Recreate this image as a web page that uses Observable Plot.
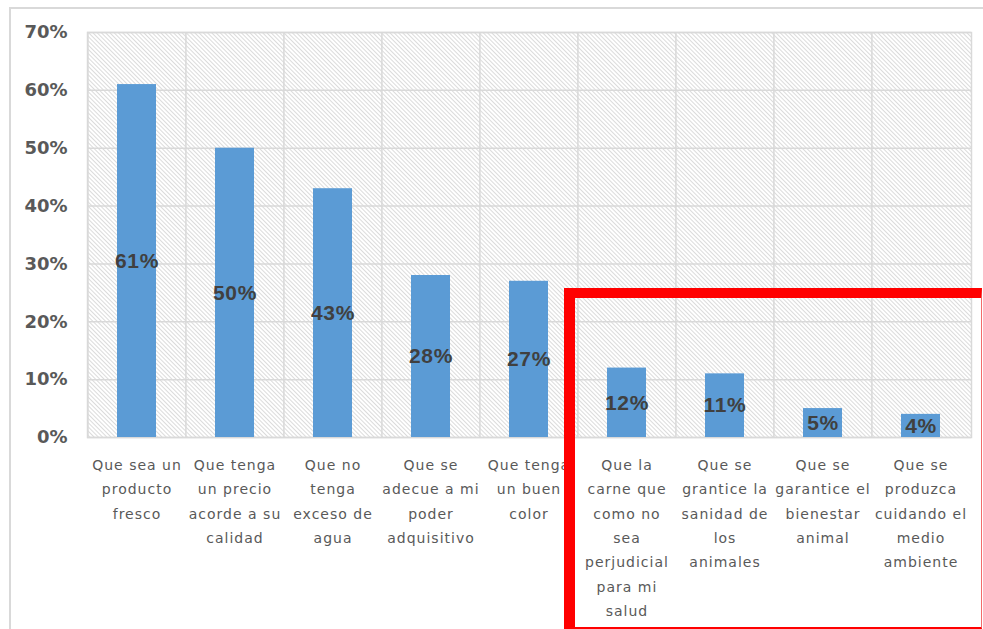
<!DOCTYPE html>
<html>
<head>
<meta charset="utf-8">
<script src="https://cdn.jsdelivr.net/npm/d3@7"></script>
<script src="https://cdn.jsdelivr.net/npm/@observablehq/plot@0.6"></script>
<style>
  html, body { margin: 0; padding: 0; background: #fff; }
  #wrap { position: relative; width: 983px; height: 629px; overflow: hidden; background: #fff; }
  #chart { position: absolute; left: 0; top: 0; }
  .outer-top { position: absolute; left: 10px; top: 7px; width: 973px; height: 0; border-top: 2px solid #d9d9d9; }
  .outer-left { position: absolute; left: 9px; top: 7px; width: 0; height: 622px; border-left: 2px solid #d9d9d9; }
  .redbox { position: absolute; left: 564px; top: 288px; width: 406px; height: 329px;
            border-left: 11px solid #ff0000; border-top: 10px solid #ff0000;
            border-right: 1px solid #f26b6b; border-bottom: 2px solid #ff0000; }
  g[font-size="14"] text { letter-spacing: 1px; }
  g[font-size="21"] text { letter-spacing: 0.7px; }
</style>
</head>
<body>
<div id="wrap">
  <div class="outer-top"></div>
  <div class="outer-left"></div>
  <div id="chart"></div>
  <div class="redbox"></div>
</div>
<svg width="0" height="0" style="position:absolute">
  <defs>
    <pattern id="hatch" patternUnits="userSpaceOnUse" width="3" height="3" patternTransform="rotate(-45)">
      <rect width="3" height="3" fill="#ffffff"></rect>
      <line x1="0" y1="0" x2="0" y2="3" stroke="#cccccc" stroke-width="1.4"></line>
    </pattern>
  </defs>
</svg>
<script>
const categories = [
  "Que sea un producto fresco",
  "Que tenga un precio acorde a su calidad",
  "Que no tenga exceso de agua",
  "Que se adecue a mi poder adquisitivo",
  "Que tenga un buen color",
  "Que la carne que como no sea perjudicial para mi salud",
  "Que se grantice la sanidad de los animales",
  "Que se garantice el bienestar animal",
  "Que se produzca cuidando el medio ambiente"
];
const tickLabels = [
  "Que sea un\nproducto\nfresco",
  "Que tenga\nun precio\nacorde a su\ncalidad",
  "Que no\ntenga\nexceso de\nagua",
  "Que se\nadecue a mi\npoder\nadquisitivo",
  "Que tenga\nun buen\ncolor",
  "Que la\ncarne que\ncomo no\nsea\nperjudicial\npara mi\nsalud",
  "Que se\ngrantice la\nsanidad de\nlos\nanimales",
  "Que se\ngarantice el\nbienestar\nanimal",
  "Que se\nproduzca\ncuidando el\nmedio\nambiente"
];
const values = [0.61, 0.50, 0.43, 0.28, 0.27, 0.12, 0.11, 0.05, 0.04];
const yTicks = [0, 0.1, 0.2, 0.3, 0.4, 0.5, 0.6, 0.7];

const data = categories.map((c, i) => ({cat: c, value: values[i], label: tickLabels[i]}));
const pct = d3.format(".0%");

const chart = Plot.plot({
  width: 983,
  height: 629,
  marginTop: 32,
  marginRight: 12,
  marginBottom: 192,
  marginLeft: 87,
  style: {fontFamily: "DejaVu Sans", background: "transparent", overflow: "visible"},
  x: {domain: categories, paddingInner: 0.6, paddingOuter: 0.3, axis: null},
  y: {domain: [0, 0.7], axis: null},
  marks: [
    Plot.frame({fill: "url(#hatch)", stroke: "none"}),
    Plot.ruleY(yTicks, {stroke: "#d9d9d9", strokeWidth: 1.5}),
    Plot.ruleX(categories, {x: d => d, dx: -49.1, stroke: "#d9d9d9", strokeWidth: 1.5}),
    Plot.frame({stroke: "#d9d9d9", strokeWidth: 1.5}),
    Plot.barY(data, {x: "cat", y: "value", fill: "#5b9bd5"}),
    Plot.text(data, {x: "cat", y: d => d.value / 2, text: d => pct(d.value),
      fontSize: 21, fontWeight: "bold", fontFamily: "Liberation Sans", fill: "#404040"}),
    Plot.axisY({ticks: yTicks, tickFormat: pct, tickSize: 0, tickPadding: 20, label: null,
      fontSize: 18, fontWeight: "bold", color: "#595959"}),
    Plot.text(data, {x: "cat", y: 0, text: "label", lineAnchor: "top", dy: 15,
      lineHeight: 1.74, fontSize: 14, fill: "#595959"})
  ]
});
document.getElementById("chart").appendChild(chart);
</script>
</body>
</html>
